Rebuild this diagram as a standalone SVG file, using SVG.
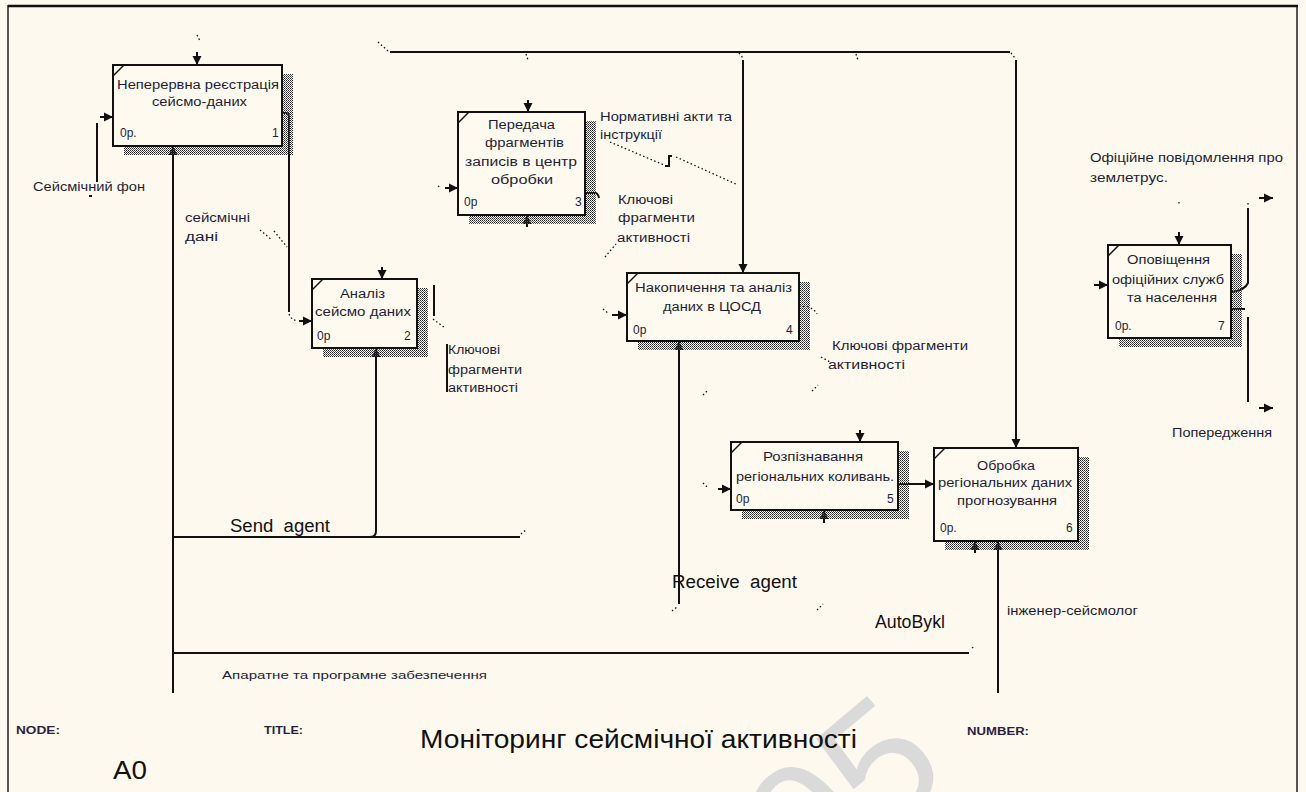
<svg xmlns="http://www.w3.org/2000/svg" width="1306" height="792" viewBox="0 0 1306 792">
  <defs>
    <style>
      .bg { fill: #fef9ee; }
      .frame { fill: none; stroke: #555; stroke-width: 2; }
      .box { fill: #fefaef; stroke: #111; stroke-width: 2; }
      .corner { stroke: #111; stroke-width: 1.5; }
      .shadow { fill: url(#dots); }
      .c { fill: none; stroke: #111; stroke-width: 2; }
      .a { fill: none; stroke: #111; stroke-width: 2; marker-end: url(#ah); }
      .d { fill: none; stroke: #111; stroke-width: 1.3; stroke-dasharray: 1.5 2.5; }
      .t { font-family: "Liberation Sans", Arial, sans-serif; font-size: 12px; fill: #1e1e38; }
      .s { font-family: "Liberation Sans", Arial, sans-serif; font-size: 11px; fill: #1e1e38; }
      .big { font-family: "Liberation Sans", Arial, sans-serif; font-size: 18px; fill: #111; }
      .title { font-family: "Liberation Sans", Arial, sans-serif; font-size: 26px; fill: #111; }
      .hdr { font-family: "Liberation Sans", Arial, sans-serif; font-size: 10px; font-weight: bold; fill: #2a1f40; }
      .mark { font-family: "Liberation Sans", Arial, sans-serif; font-size: 170px; fill: #dadada; }
    </style>
    <!-- checkerboard dots used for the box shadows -->
    <pattern id="dots" width="2" height="2" patternUnits="userSpaceOnUse">
      <rect width="1" height="1" fill="#222"/>
      <rect x="1" y="1" width="1" height="1" fill="#555"/>
    </pattern>
    <marker id="ah" markerWidth="10" markerHeight="10" refX="9" refY="5" orient="auto" markerUnits="userSpaceOnUse">
      <path d="M0,0.5 L9,5 L0,9.5 z" fill="#111"/>
    </marker>
  </defs>

  <!-- sheet -->
  <rect class="bg" x="0" y="0" width="1306" height="792"/>
  <rect class="frame" x="8" y="6" width="1289" height="800"/>
  <line x1="8" y1="6" x2="1298" y2="6" stroke="#111" stroke-width="2.5"/>

  <!-- faint watermark -->
  <text class="mark" transform="translate(808,898) rotate(-40)">05</text>

  <!-- connectors -->
  <g id="connectors">
    <!-- control bus across the top -->
    <path class="d" d="M378,42 L388,51"/>
    <path class="c" d="M390,52 H1010"/>
    <path class="d" d="M1011,53 L1015,58"/>
    <path class="a" d="M1016,60 V448"/>
    <path class="d" d="M739,53 L743,58"/>
    <path class="a" d="M743,60 V273"/>
    <path class="d" d="M526,54 L528,60"/>
    <path class="d" d="M856,54 L858,60"/>

    <!-- box 1 -->
    <path class="d" d="M197,35 L200,41"/>
    <path class="a" d="M197,52 V65"/>
    <path class="a" d="M100,117 H113"/>
    <path class="c" d="M97,123 V182"/>
    <path class="c" d="M89,196 H92"/>
    <path class="a" d="M173,161 V146"/>
    <path class="c" d="M173,161 V693"/>
    <path class="c" d="M282,113 H286 Q289,113 289,117 V312"/>
    <path class="d" d="M289,314 Q291,320 298,321"/>
    <path class="a" d="M299,321 H312"/>
    <path class="d" d="M260,230 L272,240 M274,231 L287,247"/>

    <!-- box 2 -->
    <path class="a" d="M382,267 V279"/>
    <path class="c" d="M434,285 V316"/>
    <path class="d" d="M433,319 L445,328"/>
    <path class="a" d="M376,362 V348"/>
    <path class="c" d="M376,362 V531 Q376,537 370,537"/>
    <path class="c" d="M173,537 H520"/>
    <path class="d" d="M521,534 L527,529"/>

    <!-- box 3 -->
    <path class="a" d="M528,100 V112"/>
    <path class="d" d="M438,186 L441,188"/>
    <path class="a" d="M445,188 H458"/>
    <path class="a" d="M527,227 V215"/>
    <path class="c" d="M585,193 H595 Q598,193 599,198"/>
    <path class="d" d="M610,142 L664,165"/>
    <path class="c" d="M665,166 H669 V156 H672"/>
    <path class="d" d="M676,157 L738,185"/>
    <path class="d" d="M605,257 L616,244"/>

    <!-- box 4 -->
    <path class="d" d="M603,309 L608,313"/>
    <path class="a" d="M612,315 H627"/>
    <path class="a" d="M679,353 V341"/>
    <path class="c" d="M679,353 V604"/>
    <path class="d" d="M672,611 L677,607"/>
    <path class="d" d="M799,306 Q813,306 817,314"/>
    <path class="d" d="M821,357 L830,362"/>
    <path class="d" d="M812,391 L818,385"/>
    <path class="d" d="M703,395 L707,391"/>

    <!-- box 5 -->
    <path class="a" d="M860,430 V442"/>
    <path class="d" d="M703,483 L707,487"/>
    <path class="a" d="M718,489 H731"/>
    <path class="a" d="M824,523 V510"/>
    <path class="a" d="M898,484 H934"/>

    <!-- box 6 -->
    <path class="a" d="M975,553 V541"/>
    <path class="a" d="M998,553 V541"/>
    <path class="c" d="M998,553 V693"/>

    <!-- box 7 -->
    <path class="d" d="M1179,202 V205"/>
    <path class="a" d="M1179,232 V245"/>
    <path class="a" d="M1094,285 H1108"/>
    <path class="c" d="M1232,292 Q1245,290 1248,283 V208"/>
    <path class="d" d="M1248,203 V206"/>
    <path class="a" d="M1259,198 H1273"/>
    <path class="c" d="M1232,309 H1245"/>
    <path class="c" d="M1248,317 V402"/>
    <path class="a" d="M1259,408 H1273"/>

    <!-- mechanism bus -->
    <path class="c" d="M173,653 H969"/>
    <path class="d" d="M972,648 L975,646"/>
    <path class="d" d="M817,610 L823,604"/>
  </g>

  <!-- activity boxes -->
  <g id="node-1">
    <rect class="shadow" x="124" y="74" width="169" height="81"/>
    <rect class="box" x="113" y="65" width="169" height="81"/>
    <line class="corner" x1="113" y1="76" x2="124" y2="65"/>
    <text class="t" x="117" y="89" textLength="162" lengthAdjust="spacingAndGlyphs">Неперервна реєстрація</text>
    <text class="t" x="152" y="106" textLength="95" lengthAdjust="spacingAndGlyphs">сейсмо-даних</text>
    <text class="t" x="120" y="137">0р.</text>
    <text class="t" x="272" y="137">1</text>
  </g>

  <g id="node-2">
    <rect class="shadow" x="323" y="288" width="105" height="69"/>
    <rect class="box" x="312" y="279" width="105" height="69"/>
    <line class="corner" x1="312" y1="290" x2="323" y2="279"/>
    <text class="t" x="340" y="298" textLength="45" lengthAdjust="spacingAndGlyphs">Аналіз</text>
    <text class="t" x="315" y="316" textLength="96" lengthAdjust="spacingAndGlyphs">сейсмо даних</text>
    <text class="t" x="317" y="340">0р</text>
    <text class="t" x="404" y="340">2</text>
  </g>

  <g id="node-3">
    <rect class="shadow" x="469" y="121" width="127" height="103"/>
    <rect class="box" x="458" y="112" width="127" height="103"/>
    <line class="corner" x1="458" y1="123" x2="469" y2="112"/>
    <text class="t" x="488" y="129" textLength="67" lengthAdjust="spacingAndGlyphs">Передача</text>
    <text class="t" x="485" y="147" textLength="79" lengthAdjust="spacingAndGlyphs">фрагментів</text>
    <text class="t" x="465" y="166" textLength="112" lengthAdjust="spacingAndGlyphs">записів в центр</text>
    <text class="t" x="491" y="184" textLength="62" lengthAdjust="spacingAndGlyphs">обробки</text>
    <text class="t" x="464" y="206">0р</text>
    <text class="t" x="575" y="206">3</text>
  </g>

  <g id="node-4">
    <rect class="shadow" x="638" y="282" width="172" height="68"/>
    <rect class="box" x="627" y="273" width="172" height="68"/>
    <line class="corner" x1="627" y1="284" x2="638" y2="273"/>
    <text class="t" x="635" y="292" textLength="157" lengthAdjust="spacingAndGlyphs">Накопичення та аналіз</text>
    <text class="t" x="663" y="311" textLength="98" lengthAdjust="spacingAndGlyphs">даних в ЦОСД</text>
    <text class="t" x="633" y="334">0р</text>
    <text class="t" x="786" y="334">4</text>
  </g>

  <g id="node-5">
    <rect class="shadow" x="742" y="451" width="167" height="68"/>
    <rect class="box" x="731" y="442" width="167" height="68"/>
    <line class="corner" x1="731" y1="453" x2="742" y2="442"/>
    <text class="t" x="763" y="461" textLength="100" lengthAdjust="spacingAndGlyphs">Розпізнавання</text>
    <text class="t" x="736" y="481" textLength="158" lengthAdjust="spacingAndGlyphs">регіональних коливань.</text>
    <text class="t" x="736" y="503">0р</text>
    <text class="t" x="887" y="503">5</text>
  </g>

  <g id="node-6">
    <rect class="shadow" x="945" y="457" width="144" height="93"/>
    <rect class="box" x="934" y="448" width="144" height="93"/>
    <line class="corner" x1="934" y1="459" x2="945" y2="448"/>
    <text class="t" x="977" y="470" textLength="58" lengthAdjust="spacingAndGlyphs">Обробка</text>
    <text class="t" x="938" y="487" textLength="134" lengthAdjust="spacingAndGlyphs">регіональних даних</text>
    <text class="t" x="957" y="505" textLength="100" lengthAdjust="spacingAndGlyphs">прогнозування</text>
    <text class="t" x="940" y="532">0р.</text>
    <text class="t" x="1066" y="532">6</text>
  </g>

  <g id="node-7">
    <rect class="shadow" x="1119" y="254" width="123" height="93"/>
    <rect class="box" x="1108" y="245" width="123" height="93"/>
    <line class="corner" x1="1108" y1="256" x2="1119" y2="245"/>
    <text class="t" x="1127" y="264" textLength="83" lengthAdjust="spacingAndGlyphs">Оповіщення</text>
    <text class="t" x="1112" y="284" textLength="112" lengthAdjust="spacingAndGlyphs">офіційних служб</text>
    <text class="t" x="1127" y="302" textLength="90" lengthAdjust="spacingAndGlyphs">та населення</text>
    <text class="t" x="1115" y="330">0р.</text>
    <text class="t" x="1218" y="330">7</text>
  </g>

  <!-- arrow labels -->
  <g id="labels">
    <text class="t" x="33" y="191" textLength="112" lengthAdjust="spacingAndGlyphs">Сейсмічний фон</text>
    <text class="t" x="185" y="222" textLength="65" lengthAdjust="spacingAndGlyphs">сейсмічні</text>
    <text class="t" x="185" y="241" textLength="33" lengthAdjust="spacingAndGlyphs">дані</text>
    <text class="t" x="600" y="121" textLength="132" lengthAdjust="spacingAndGlyphs">Нормативні акти та</text>
    <text class="t" x="600" y="139" textLength="62" lengthAdjust="spacingAndGlyphs">інструкції</text>
    <text class="t" x="618" y="204" textLength="55" lengthAdjust="spacingAndGlyphs">Ключові</text>
    <text class="t" x="618" y="222" textLength="77" lengthAdjust="spacingAndGlyphs">фрагменти</text>
    <text class="t" x="617" y="242" textLength="73" lengthAdjust="spacingAndGlyphs">активності</text>
    <line class="c" x1="447" y1="344" x2="447" y2="392" stroke-width="1.5"/>
    <text class="t" x="448" y="354" textLength="52" lengthAdjust="spacingAndGlyphs">Ключові</text>
    <text class="t" x="448" y="374" textLength="74" lengthAdjust="spacingAndGlyphs">фрагменти</text>
    <text class="t" x="448" y="392" textLength="70" lengthAdjust="spacingAndGlyphs">активності</text>
    <text class="t" x="832" y="350" textLength="136" lengthAdjust="spacingAndGlyphs">Ключові фрагменти</text>
    <text class="t" x="828" y="369" textLength="77" lengthAdjust="spacingAndGlyphs">активності</text>
    <text class="t" x="1090" y="162" textLength="193" lengthAdjust="spacingAndGlyphs">Офіційне повідомлення про</text>
    <text class="t" x="1090" y="182" textLength="78" lengthAdjust="spacingAndGlyphs">землетрус.</text>
    <text class="t" x="1172" y="437" textLength="100" lengthAdjust="spacingAndGlyphs">Попередження</text>
    <text class="t" x="1007" y="615" textLength="131" lengthAdjust="spacingAndGlyphs">інженер-сейсмолог</text>
    <text class="s" x="222" y="679" textLength="265" lengthAdjust="spacingAndGlyphs">Апаратне та програмне забезпечення</text>
    <text class="big" x="230" y="532" textLength="100" lengthAdjust="spacingAndGlyphs">Send&#160;&#160;agent</text>
    <text class="big" x="672" y="588" textLength="125" lengthAdjust="spacingAndGlyphs">Receive&#160;&#160;agent</text>
    <text class="big" x="875" y="628" textLength="70" lengthAdjust="spacingAndGlyphs">AutoBykl</text>
  </g>

  <!-- title block -->
  <g id="title-block">
    <text class="hdr" x="16" y="734" textLength="44" lengthAdjust="spacingAndGlyphs">NODE:</text>
    <text class="hdr" x="264" y="734" textLength="39" lengthAdjust="spacingAndGlyphs">TITLE:</text>
    <text class="hdr" x="967" y="735" textLength="62" lengthAdjust="spacingAndGlyphs">NUMBER:</text>
    <text class="title" x="113" y="779" textLength="34" lengthAdjust="spacingAndGlyphs">A0</text>
    <text class="title" x="420" y="748" textLength="437" lengthAdjust="spacingAndGlyphs">Моніторинг сейсмічної активності</text>
  </g>
</svg>
